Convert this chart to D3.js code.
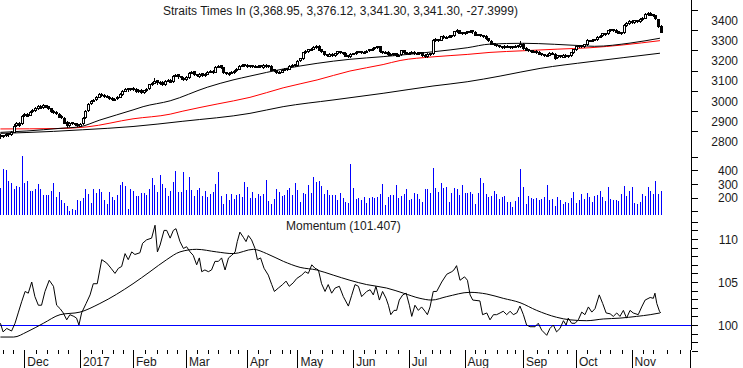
<!DOCTYPE html>
<html><head><meta charset="utf-8">
<script src="https://cdn.jsdelivr.net/npm/d3@7"></script>
<style>
body{margin:0;background:#fff}
svg{display:block;font-family:"Liberation Sans",Arial,sans-serif}
</style>
</head><body>
<svg id="c" width="743" height="368"></svg>
<script>
// ---------------- DATA ----------------
const titleText = "Straits Times In (3,368.95, 3,376.12, 3,341.30, 3,341.30, -27.3999)";
const momTitle = "Momentum (101.407)";

const openP = [2830,2826,2832,2840,2835,2850,2880,2892,2890,2928,2938,2932,2948,2957,2966,2976,2970,2980,2974,2964,
2952,2947,2938,2926,2918,2896,2882,2894,2890,2886,2880,2890,2918,2955,2988,3002,3008,3022,3036,3031,
3026,3020,3016,3008,3013,3022,3036,3052,3062,3056,3064,3059,3049,3056,3044,3053,3062,3084,3092,3102,
3088,3096,3084,3102,3106,3100,3126,3132,3121,3116,3108,3120,3141,3146,3131,3124,3136,3127,3134,3146,
3149,3145,3171,3176,3166,3141,3133,3139,3143,3151,3160,3176,3182,3179,3170,3177,3169,3173,3177,3168,
3179,3170,3175,3156,3151,3139,3146,3154,3161,3160,3176,3181,3180,3202,3212,3242,3246,3254,3259,3266,
3274,3256,3246,3231,3224,3233,3227,3236,3246,3241,3239,3226,3221,3233,3235,3243,3246,3239,3243,3249,
3254,3259,3264,3271,3246,3239,3243,3233,3229,3236,3224,3229,3251,3241,3234,3239,3243,3239,3234,3241,
3229,3221,3231,3238,3298,3306,3302,3322,3314,3317,3321,3326,3344,3351,3339,3334,3341,3344,3349,3343,
3331,3329,3326,3322,3311,3298,3286,3281,3276,3271,3267,3273,3271,3264,3269,3275,3270,3281,3263,3256,
3251,3244,3249,3243,3236,3231,3224,3229,3239,3234,3214,3226,3219,3229,3221,3227,3241,3256,3268,3276,
3271,3282,3301,3297,3303,3306,3317,3323,3336,3333,3349,3356,3353,3346,3339,3340,3374,3386,3396,3389,
3399,3393,3404,3412,3429,3436,3429,3424,3405,3368.95];

const highP = [2836,2834,2842,2844,2850,2884,2896,2895,2930,2940,2942,2950,2960,2970,2980,2980,2984,2982,2976,2966,
2955,2950,2940,2930,2920,2900,2898,2898,2893,2890,2893,2920,2955,2990,3006,3012,3025,3040,3040,3035,
3030,3024,3020,3016,3024,3040,3054,3064,3066,3066,3068,3062,3058,3058,3056,3064,3086,3095,3112,3104,
3099,3098,3104,3110,3108,3128,3135,3134,3124,3119,3122,3144,3150,3148,3134,3139,3138,3136,3149,3152,
3151,3174,3180,3178,3168,3144,3142,3146,3154,3162,3178,3184,3185,3181,3179,3179,3177,3179,3179,3181,
3181,3179,3177,3158,3153,3148,3158,3163,3164,3178,3183,3184,3204,3214,3244,3250,3258,3262,3271,3277,
3276,3258,3248,3234,3236,3236,3238,3248,3249,3243,3241,3228,3235,3239,3245,3248,3248,3247,3251,3258,
3261,3268,3274,3273,3249,3245,3245,3236,3238,3238,3231,3254,3253,3243,3241,3245,3245,3241,3243,3243,
3231,3235,3238,3304,3309,3308,3323,3324,3321,3325,3328,3348,3354,3353,3342,3343,3348,3352,3351,3345,
3333,3331,3328,3324,3313,3300,3288,3283,3278,3273,3275,3276,3273,3273,3277,3278,3295,3284,3266,3258,
3253,3251,3251,3245,3238,3233,3231,3241,3241,3236,3228,3228,3231,3230,3229,3243,3258,3273,3278,3278,
3283,3304,3303,3305,3308,3321,3325,3338,3338,3353,3358,3358,3354,3347,3341,3378,3388,3398,3398,3401,
3401,3408,3414,3434,3440,3438,3431,3426,3407,3376.12];

const lowP = [2818,2822,2828,2829,2831,2848,2876,2878,2886,2924,2926,2929,2944,2953,2962,2964,2966,2968,2962,2946,
2941,2936,2921,2915,2890,2874,2878,2885,2881,2877,2876,2886,2914,2950,2983,2998,3004,3018,3026,3021,
3018,3011,3006,3004,3009,3019,3032,3048,3051,3052,3054,3046,3045,3041,3040,3050,3058,3080,3088,3086,
3085,3081,3080,3098,3094,3096,3122,3116,3111,3105,3104,3116,3138,3126,3121,3120,3124,3124,3131,3142,
3138,3141,3167,3164,3136,3131,3130,3136,3140,3148,3156,3172,3174,3168,3167,3166,3166,3170,3166,3165,
3168,3167,3152,3146,3136,3136,3143,3151,3155,3157,3173,3174,3177,3199,3208,3238,3243,3251,3256,3263,
3252,3241,3226,3220,3221,3224,3224,3233,3236,3234,3221,3218,3218,3230,3232,3240,3236,3236,3240,3246,
3251,3256,3261,3241,3236,3236,3228,3226,3226,3220,3220,3226,3236,3231,3232,3236,3234,3231,3232,3224,
3218,3218,3228,3234,3294,3296,3299,3311,3311,3314,3318,3323,3340,3334,3331,3331,3338,3341,3338,3326,
3324,3321,3316,3306,3296,3281,3276,3271,3266,3264,3264,3267,3261,3261,3266,3268,3266,3258,3251,3246,
3241,3240,3238,3231,3226,3220,3221,3226,3231,3205,3211,3216,3216,3218,3218,3223,3238,3253,3265,3268,
3268,3279,3294,3294,3300,3303,3314,3320,3328,3330,3346,3348,3341,3334,3331,3336,3370,3382,3386,3386,
3388,3390,3400,3408,3425,3424,3420,3405,3365,3341.30];

const closeP = [2825,2830,2838,2833,2845,2878,2890,2882,2925,2935,2930,2945,2955,2965,2975,2968,2978,2972,2966,2950,
2945,2940,2925,2920,2895,2880,2893,2890,2885,2882,2888,2915,2950,2985,3000,3005,3020,3035,3030,3025,
3022,3015,3010,3012,3020,3035,3050,3060,3055,3062,3058,3050,3055,3045,3052,3060,3082,3090,3100,3090,
3095,3085,3100,3105,3098,3125,3130,3120,3115,3110,3118,3140,3145,3130,3125,3135,3128,3132,3145,3148,
3142,3170,3175,3168,3140,3135,3138,3142,3150,3158,3175,3180,3178,3172,3176,3170,3174,3175,3170,3178,
3172,3176,3155,3150,3140,3145,3155,3160,3158,3175,3180,3178,3200,3210,3240,3245,3255,3258,3268,3272,
3255,3245,3230,3225,3232,3228,3235,3245,3240,3238,3225,3222,3232,3236,3242,3245,3240,3244,3248,3255,
3258,3265,3270,3245,3240,3242,3232,3230,3235,3225,3228,3250,3240,3235,3238,3242,3238,3235,3240,3228,
3222,3232,3235,3300,3305,3300,3320,3315,3318,3322,3325,3345,3350,3338,3335,3340,3345,3348,3342,3330,
3328,3325,3320,3310,3300,3285,3280,3275,3270,3268,3272,3270,3265,3270,3274,3271,3280,3262,3255,3250,
3245,3248,3242,3235,3230,3225,3228,3238,3235,3215,3225,3220,3228,3222,3226,3240,3255,3270,3275,3272,
3280,3300,3298,3302,3305,3318,3322,3335,3332,3350,3355,3352,3345,3338,3335,3375,3385,3395,3390,3398,
3392,3405,3410,3430,3435,3428,3425,3410,3368.7,3341.30];

const volume = [273,410,402,322,305,263,285,278,504,305,322,249,249,263,300,263,220,220,220,249,
305,205,242,183,161,139,100,118,110,183,176,198,263,227,161,263,234,263,242,183,
154,242,205,183,220,293,315,285,118,263,249,212,212,234,234,220,263,344,293,242,
366,300,271,212,249,315,395,242,242,388,256,351,256,212,256,271,212,249,205,227,
242,300,388,212,154,227,183,227,190,220,227,205,315,278,198,242,198,227,212,227,
329,176,154,190,263,242,212,220,256,271,220,307,256,168,234,227,293,234,351,315,
322,285,227,256,220,220,220,183,234,198,168,161,446,271,190,198,183,205,161,198,
203,196,207,225,300,147,205,220,220,293,200,212,227,263,183,190,234,227,190,168,
263,263,234,417,271,242,307,271,278,168,234,271,263,220,293,234,234,242,227,154,
234,344,307,227,205,212,249,227,190,205,212,168,168,132,176,205,410,278,154,212,
198,190,198,183,190,205,293,183,190,139,205,183,154,168,161,198,242,161,183,227,
190,234,205,168,212,220,249,205,176,278,190,183,183,176,227,285,212,249,278,161,
154,168,227,212,278,249,227,322,227,249];

// moving averages of price: [day index, value]
const maShort = [[0,2845],[10,2852],[22.5,2865],[30,2873],[37.5,2906],[50,2956],[53.8,2972],[64,3001],[78,3068],[87.7,3104],
[94.1,3123],[106.6,3158],[119.4,3186],[131.8,3206],[144.3,3219],[154.4,3231],[163.1,3243],[176,3263],[184.6,3281],[197,3285],
[209,3280],[217.8,3274],[224,3270],[237.4,3286],[248.7,3310]];
const maMid = [[0,2862],[22,2864],[32.6,2872],[50,2912],[64,2935],[68.8,2950],[81.7,2985],[94.1,3018],[106.6,3065],[119.4,3104],
[131.8,3148],[144.3,3180],[150.7,3200],[163.1,3218],[176,3230],[184.6,3240],[197,3248],[209.9,3256],[222.3,3263],[234.8,3277],[248.7,3298]];
const maLong = [[0,2840],[20,2850],[31,2858],[50,2874],[68.8,2900],[94.1,2939],[106.6,2972],[125.4,3005],[144.3,3038],[163.1,3074],
[176,3095],[188.4,3123],[203.5,3161],[222.3,3194],[234.8,3214],[248.7,3236]];

// momentum: [day index, value]
const momentum = [[0,100.2],[1,99.2],[2.4,99.6],[4.2,99.3],[5.5,100.2],[6.8,101.5],[8,102.7],[9.3,103.9],[10.5,103.7],[11.8,105.0],
[13,103.3],[14.3,102.3],[15.5,102.3],[16.8,103.9],[18.4,105.2],[20,104.5],[21.2,102.3],[22.5,101.9],[23.7,101.4],[25,100.6],
[26.2,101.2],[27.7,101.0],[28.7,100.8],[29.6,100.0],[30.6,101.4],[32.3,102.5],[33.8,103.5],[35,104.8],[36.5,104.8],[38.2,107.6],
[40.1,107.2],[41.7,106.6],[43.2,106.0],[44.5,106.6],[45.7,106.8],[47,108.3],[48.2,107.6],[49.5,108.5],[50.7,108.2],[52.6,108.4],
[53.6,109.5],[55.1,109.9],[57,110.1],[58.3,111.6],[59.2,108.5],[60.2,109.3],[61.7,111.0],[62.7,111.0],[64,110.1],[65.2,111.0],
[66.2,111.2],[67.7,109.7],[69,108.9],[70.2,109.1],[71.5,108.5],[72.7,108.1],[74,107.0],[75,107.8],[75.9,106.2],[77.1,106.4],
[78.4,106.2],[79.6,106.4],[80.9,107.4],[82.2,107.4],[83.4,107.8],[84.7,106.4],[86,107.8],[87.2,108.1],[88.5,108.5],[89.3,109.7],
[90.3,110.8],[91.6,110.2],[92.6,109.7],[93.5,110.4],[94.7,109.9],[96,108.9],[96.9,107.6],[98.1,107.8],[99.4,106.6],[101,105.8],
[102.3,104.7],[103.3,103.9],[104.8,104.3],[106.4,104.7],[107.7,105.1],[108.9,104.5],[110.4,104.9],[111.7,105.4],[113.6,105.8],[114.9,106.2],
[116.1,106.0],[117.4,107.0],[118.6,106.6],[119.9,106.4],[121.1,104.8],[122.4,103.9],[123.6,104.7],[124.9,103.7],[126.2,104.3],[127.8,104.5],
[129.3,103.3],[131.2,102.2],[132.4,103.4],[133.7,104.7],[135,104.5],[136.2,103.3],[138.1,103.9],[139.4,104.1],[140.6,103.5],[141.6,104.5],
[142.9,102.9],[144.1,103.9],[145.4,103.1],[146.3,102.3],[147.2,101.2],[148.4,101.7],[149.4,101.7],[150.4,102.9],[151.7,103.5],[153,103.7],
[154.2,102.3],[155.1,101.0],[156.3,102.3],[157.6,101.7],[158.8,102.1],[160.1,101.6],[161,101.2],[162,102.1],[163.2,103.9],[164.5,103.9],
[166.4,105.0],[168.3,105.9],[170.2,106.2],[171,106.4],[172,106.9],[173.3,105.2],[175,105.6],[176.1,105.2],[177.1,103.5],[178.1,102.9],
[180.8,102.8],[181.8,101.2],[183.4,101.4],[184.6,100.6],[185.9,101.2],[187.1,101.2],[188.4,101.4],[189.6,101.6],[190.9,101.2],[192.2,101.6],
[193.4,101.2],[194.7,101.4],[195.9,102.2],[197.2,101.2],[198.4,100.0],[199.7,99.8],[201.6,99.8],[202.8,100.2],[204.1,99.4],[206,98.8],
[207.2,99.6],[208.5,100.0],[209.7,99.2],[211,99.6],[212.3,100.5],[213.3,100.0],[214.1,100.8],[215.4,100.2],[216.7,100.2],[217.9,100.6],
[219.2,101.5],[220.4,101.2],[221.7,102.1],[223,101.5],[224.2,101.9],[225.8,103.5],[227.1,102.5],[228.4,101.4],[229.9,101.3],[231.1,101.0],
[232.4,101.4],[233.6,101.0],[234.9,101.7],[236.1,100.8],[237.4,101.7],[238.6,101.4],[240.5,101.2],[241.8,102.1],[243.1,102.9],[245,103.2],
[246.2,103.1],[246.8,103.7],[247.5,102.5],[248.5,101.6],[249,101.407]];
const momentumMA = [[0,98.6],[5,98.6],[10,99.2],[16.2,100.2],[22.5,101.2],[30,101.5],[37.5,102.5],[50,104.8],[56.4,106.2],[62.7,107.6],
[67.7,108.5],[74,108.8],[81.5,108.5],[87.8,108.3],[95.4,108.8],[100.4,108.3],[106.7,107.4],[113,106.7],[119.2,106.4],[125.5,105.8],
[131.8,105.2],[138.1,104.7],[145.6,104.3],[152,103.7],[158.2,103.1],[162.6,102.9],[168.3,103.3],[177,103.8],[183.4,103.6],[189.6,103.1],
[195.9,102.6],[202.2,101.7],[209.7,100.9],[214.8,100.6],[221.1,100.5],[227.3,100.7],[233.6,100.8],[239.9,101.0],[245,101.2],[248.7,101.4]];
const momBase = 100;

// axis ticks
const priceTicks = [2800,2900,3000,3100,3200,3300,3400];
const priceMinorTicks = [2850,2950,3050,3150,3250,3350,3450];
const volTicks = [100,200,300,400,500];
const volLabels = [200,300,400];
const momTicks = [97,98,99,100,101,102,103,104,105,106,107,108,109,110,111,112];
const momLabels = [100,105,110];
const monthStarts = [9,30,50,70,93,112,133,154,175,197,217,238,260];
const monthLabels = ["Dec","2017","Feb","Mar","Apr","May","Jun","Jul","Aug","Sep","Oct","Nov",""];
const minorDays = [0.9,4.9,13.4,17.4,21.6,25.6,34,38.2,42.6,46.3,54.5,58.9,62.7,66.5,74,78.4,82.2,86.6,89.7,97.2,101.6,106.1,109.2,
116.7,121.1,124.9,129.3,137.1,141.2,145.4,150,158.2,162.6,165.8,169.5,178.9,182.7,187.1,190.9,194,202.2,206.6,209.8,213.5,
221.1,226.1,229.9,234.3,242.4,246.2,251.2,256.3];

// ---------------- CHART ----------------
const svg = d3.select("#c");
const FONT = 12, TXT = "#1a1a1a";
const axisX = 691.5, labelRight = 738;

const x = d3.scaleLinear().domain([0, 249]).range([0.43, 660.78]);
const yP = d3.scaleLinear().domain([2800, 3400]).range([141.5, 20]);
const yV = d3.scaleLinear().domain([200, 400]).range([197.7, 170.3]);
const yM = d3.scaleLinear().domain([100, 110]).range([325, 239]);
const px = i => Math.round(x(i));

// title
svg.append("text").attr("x", 163).attr("y", 15).attr("font-size", FONT).attr("fill", TXT).text(titleText);
svg.append("text").attr("x", 286).attr("y", 230).attr("font-size", FONT).attr("fill", TXT).text(momTitle);

// price moving averages
const maLine = d3.line().x(d => x(d[0])).y(d => yP(d[1])).curve(d3.curveMonotoneX);
svg.append("path").attr("d", maLine(maLong)).attr("fill", "none").attr("stroke", "#000").attr("stroke-width", 1);
svg.append("path").attr("d", maLine(maMid)).attr("fill", "none").attr("stroke", "#ff0000").attr("stroke-width", 1);
svg.append("path").attr("d", maLine(maShort)).attr("fill", "none").attr("stroke", "#000").attr("stroke-width", 1);

// candles
const days = d3.range(closeP.length);
const cg = svg.append("g").attr("shape-rendering", "crispEdges");
cg.selectAll("line.w").data(days).join("line")
  .attr("x1", i => px(i) + 0.5).attr("x2", i => px(i) + 0.5)
  .attr("y1", i => Math.round(yP(highP[i]))).attr("y2", i => Math.round(yP(lowP[i])) + 1)
  .attr("stroke", "#000").attr("stroke-width", 1);
cg.selectAll("rect.b").data(days).join("rect")
  .attr("x", i => px(i) - 0.5)
  .attr("width", 2)
  .attr("y", i => Math.round(yP(Math.max(openP[i], closeP[i]))) + 0.5)
  .attr("height", i => Math.max(1, Math.round(Math.abs(yP(openP[i]) - yP(closeP[i])))))
  .attr("fill", i => closeP[i] >= openP[i] ? "#fff" : "#000")
  .attr("stroke", "#000").attr("stroke-width", 1);

// volume bars
const vBase = 214.5;
svg.append("g").attr("shape-rendering", "crispEdges").selectAll("line").data(days).join("line")
  .attr("x1", i => px(i) + 0.5).attr("x2", i => px(i) + 0.5)
  .attr("y1", vBase).attr("y2", i => Math.round(yV(volume[i])))
  .attr("stroke", "#0000ff").attr("stroke-width", 1);

// momentum
svg.append("line").attr("x1", 0).attr("x2", axisX).attr("y1", Math.round(yM(momBase)) + 0.5).attr("y2", Math.round(yM(momBase)) + 0.5)
  .attr("stroke", "#0000ff").attr("stroke-width", 1).attr("shape-rendering", "crispEdges");
const mLine = d3.line().x(d => x(d[0])).y(d => yM(d[1]));
svg.append("path").attr("d", d3.line().x(d => x(d[0])).y(d => yM(d[1])).curve(d3.curveMonotoneX)(momentumMA))
  .attr("fill", "none").attr("stroke", "#000").attr("stroke-width", 1);
svg.append("path").attr("d", mLine(momentum)).attr("fill", "none").attr("stroke", "#000").attr("stroke-width", 1);

// right vertical axis line
svg.append("line").attr("x1", axisX).attr("x2", axisX).attr("y1", 0).attr("y2", 350)
  .attr("stroke", "#000").attr("shape-rendering", "crispEdges");

function rightAxis(scale, ticks, labels, tickLen, fmt) {
  const g = svg.append("g").attr("transform", `translate(${axisX},0)`);
  const ax = d3.axisRight(scale).tickValues(ticks).tickSize(tickLen).tickFormat(d => labels.includes(d) ? fmt(d) : "");
  g.call(ax);
  g.select(".domain").remove();
  g.selectAll(".tick line").attr("stroke", "#000").attr("shape-rendering", "crispEdges");
  g.selectAll(".tick text").attr("x", labelRight - axisX).attr("text-anchor", "end")
    .attr("dy", "0.35em").attr("font-size", FONT).attr("font-family", "Liberation Sans, Arial, sans-serif").attr("fill", TXT);
  return g;
}
rightAxis(yP, priceMinorTicks, [], 6, d => d);
rightAxis(yP, priceTicks, priceTicks, 0, d => d);
rightAxis(yV, volTicks, volLabels, 6, d => d);
rightAxis(yM, momTicks, momLabels, 6, d => d);

// bottom axis
const gx = svg.append("g").attr("transform", "translate(0,349.5)");
const axMaj = d3.axisBottom(x).tickValues(monthStarts).tickSize(19).tickFormat((d, k) => monthLabels[k]);
gx.call(axMaj);
gx.select(".domain").remove();
gx.selectAll(".tick line").attr("stroke", "#000").attr("shape-rendering", "crispEdges");
gx.selectAll(".tick text").attr("text-anchor", "start").attr("x", 2.5).attr("y", 16).attr("dy", 0)
  .attr("font-size", FONT).attr("font-family", "Liberation Sans, Arial, sans-serif").attr("fill", TXT);
const gx2 = svg.append("g").attr("transform", "translate(0,349.5)");
gx2.call(d3.axisBottom(x).tickValues(minorDays).tickSize(4).tickFormat(""));
gx2.select(".domain").remove();
gx2.selectAll(".tick line").attr("stroke", "#000").attr("shape-rendering", "crispEdges");
</script>
</body></html>
